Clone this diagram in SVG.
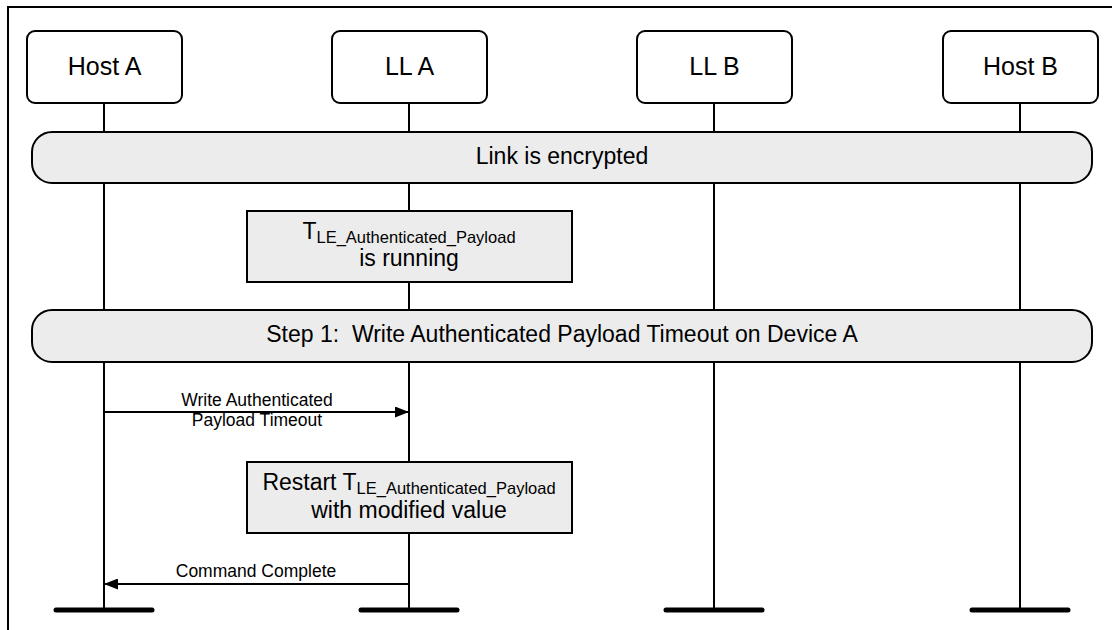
<svg xmlns="http://www.w3.org/2000/svg" width="1112" height="630" viewBox="0 0 1112 630">
<style>
text{font-family:"Liberation Sans",Arial,sans-serif;fill:#000}
.big{font-size:23px;text-anchor:middle}
.act{font-size:25px;text-anchor:middle}
.sm{font-size:17.5px;text-anchor:middle}
.sub{font-size:16.5px}
.actor{fill:#fff;stroke:#000;stroke-width:2}
.bar{fill:#ececec;stroke:#000;stroke-width:2}
.life{stroke:#000;stroke-width:2;fill:none}
.end{stroke:#000;stroke-width:5;stroke-linecap:round}
.msg{stroke:#000;stroke-width:2;fill:none}
</style>
<defs>
<marker id="ah" viewBox="0 0 14 11" refX="14" refY="5.5" markerWidth="14" markerHeight="11" markerUnits="userSpaceOnUse" orient="auto">
<path d="M0,0 L14,5.5 L0,11 Z" fill="#000"/>
</marker>
</defs>
<rect width="1112" height="630" fill="#fff"/>
<path d="M8,630 V7 H1112" fill="none" stroke="#000" stroke-width="2"/>
<g id="lifelines">
<line class="life" x1="104" y1="103" x2="104" y2="610"/>
<line class="life" x1="409" y1="103" x2="409" y2="610"/>
<line class="life" x1="714" y1="103" x2="714" y2="610"/>
<line class="life" x1="1020" y1="103" x2="1020" y2="610"/>
<line class="end" x1="56" y1="610" x2="152" y2="610"/>
<line class="end" x1="361" y1="610" x2="457" y2="610"/>
<line class="end" x1="666" y1="610" x2="762" y2="610"/>
<line class="end" x1="972" y1="610" x2="1068" y2="610"/>
</g>
<g id="hostA"><rect class="actor" x="27" y="31" width="155" height="72" rx="8"/><text class="act" x="104.5" y="75">Host A</text></g>
<g id="llA"><rect class="actor" x="332" y="31" width="155" height="72" rx="8"/><text class="act" x="409.5" y="75">LL A</text></g>
<g id="llB"><rect class="actor" x="637" y="31" width="155" height="72" rx="8"/><text class="act" x="714.5" y="75">LL B</text></g>
<g id="hostB"><rect class="actor" x="943" y="31" width="155" height="72" rx="8"/><text class="act" x="1020.5" y="75">Host B</text></g>
<g id="encrypted"><rect class="bar" x="32" y="132" width="1060" height="51" rx="20"/><text class="big" x="562" y="164">Link is encrypted</text></g>
<g id="timer1"><rect class="bar" x="247" y="211" width="325" height="71"/>
<text class="big" x="409" y="239">T<tspan class="sub" dy="4">LE_Authenticated_Payload</tspan></text>
<text class="big" x="409" y="266">is running</text></g>
<g id="step1"><rect class="bar" x="32" y="310" width="1060" height="52" rx="20"/><text class="big" x="562" y="342" style="white-space:pre">Step 1:  Write Authenticated Payload Timeout on Device A</text></g>
<g id="timer2"><rect class="bar" x="247" y="462" width="325" height="71"/>
<text class="big" x="409" y="490">Restart T<tspan class="sub" dy="4">LE_Authenticated_Payload</tspan></text>
<text class="big" x="409" y="518">with modified value</text></g>
<g id="connectors">
<line class="msg" x1="104" y1="412" x2="409" y2="412" marker-end="url(#ah)"/>
<text class="sm" x="257" y="406">Write Authenticated</text>
<text class="sm" x="257" y="426">Payload Timeout</text>
<line class="msg" x1="409" y1="584" x2="104" y2="584" marker-end="url(#ah)"/>
<text class="sm" x="256" y="577">Command Complete</text>
</g>
</svg>
